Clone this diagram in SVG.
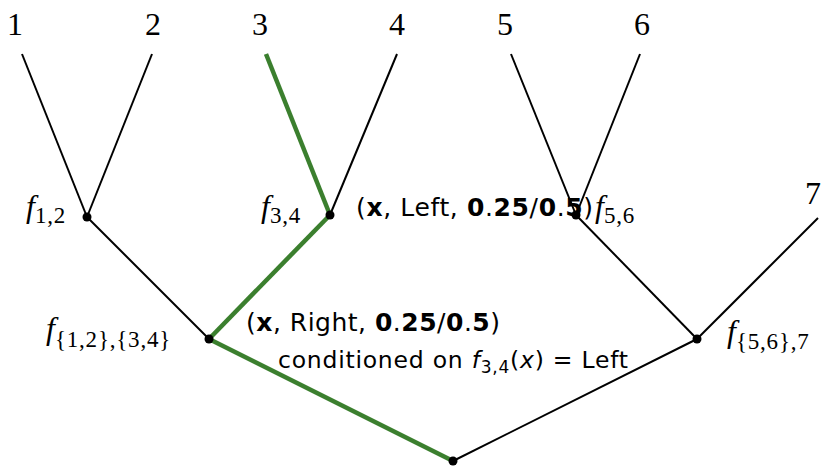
<svg xmlns="http://www.w3.org/2000/svg" width="824" height="466" viewBox="0 0 824 466">
<style>
.e{stroke:#000;stroke-width:2;fill:none}
.g{stroke:#3b7f2e;stroke-width:4.5;fill:none;stroke-linecap:butt}
.n{fill:#000}
.num{font-family:"Liberation Serif",serif;font-size:32px;fill:#000}
.m{font-family:"Liberation Serif",serif;font-size:32px;font-style:italic;fill:#000}
.s{font-family:"Liberation Serif",serif;font-size:23px;font-style:normal;letter-spacing:0.8px;fill:#000}
.t{font-family:"DejaVu Sans","Liberation Sans",sans-serif;font-size:25px;fill:#000}
.c{font-family:"DejaVu Sans","Liberation Sans",sans-serif;font-size:23.5px;fill:#000}
.b{font-weight:bold}
</style>
<rect width="824" height="466" fill="#fff"/>
<g id="connectors">
<line class="e" x1="22" y1="54" x2="87" y2="217"/>
<line class="e" x1="152" y1="54" x2="87" y2="217"/>
<line class="e" x1="397" y1="54" x2="330" y2="215"/>
<line class="e" x1="511" y1="54" x2="576" y2="215"/>
<line class="e" x1="640" y1="54" x2="576" y2="215"/>
<line class="e" x1="87" y1="217" x2="209" y2="339"/>
<line class="e" x1="576" y1="215" x2="697" y2="339"/>
<line class="e" x1="818" y1="218" x2="697" y2="339"/>
<line class="e" x1="697" y1="339" x2="453" y2="461"/>
<line class="g" x1="266" y1="54" x2="330" y2="215"/>
<line class="g" x1="330" y1="215" x2="209" y2="339"/>
<line class="g" x1="209" y1="339" x2="453" y2="461"/>
</g>
<g id="leaf1"><text class="num" x="7" y="35">1</text></g>
<g id="leaf2"><text class="num" x="145" y="35">2</text></g>
<g id="leaf3"><text class="num" x="252" y="35">3</text></g>
<g id="leaf4"><text class="num" x="389" y="35">4</text></g>
<g id="leaf5"><text class="num" x="497" y="35">5</text></g>
<g id="leaf6"><text class="num" x="634" y="35">6</text></g>
<g id="leaf7"><text class="num" x="805" y="204">7</text></g>
<g id="f12"><circle class="n" cx="87" cy="217" r="4.5"/><text class="m" x="26" y="217">f<tspan class="s" dy="6">1,2</tspan></text></g>
<g id="f34"><circle class="n" cx="330" cy="215" r="4.5"/><text class="m" x="261" y="217">f<tspan class="s" dy="6">3,4</tspan></text>
<text class="t" x="356" y="216" textLength="237" lengthAdjust="spacing">(<tspan class="b">x</tspan>, Left, <tspan class="b">0</tspan>.<tspan class="b">25</tspan>/<tspan class="b">0</tspan>.<tspan class="b">5</tspan>)</text></g>
<g id="f56"><circle class="n" cx="576" cy="215" r="4.5"/><text class="m" x="595" y="217">f<tspan class="s" dy="6">5,6</tspan></text></g>
<g id="f1234"><circle class="n" cx="209" cy="339" r="4.5"/><text class="m" x="46" y="339">f<tspan class="s" dy="8">{1,2},{3,4}</tspan></text>
<text class="t" x="246" y="331" textLength="254" lengthAdjust="spacing">(<tspan class="b">x</tspan>, Right, <tspan class="b">0</tspan>.<tspan class="b">25</tspan>/<tspan class="b">0</tspan>.<tspan class="b">5</tspan>)</text>
<text class="c" x="278" y="368" textLength="350" lengthAdjust="spacing">conditioned on <tspan font-style="italic">f</tspan><tspan font-size="17" dy="5">3,4</tspan><tspan dy="-5">(</tspan><tspan font-style="italic">x</tspan>) = Left</text></g>
<g id="f567"><circle class="n" cx="697" cy="339" r="4.5"/><text class="m" x="727" y="342">f<tspan class="s" dy="7">{5,6},7</tspan></text></g>
<g id="root"><circle class="n" cx="453" cy="461" r="4.5"/></g>
</svg>
